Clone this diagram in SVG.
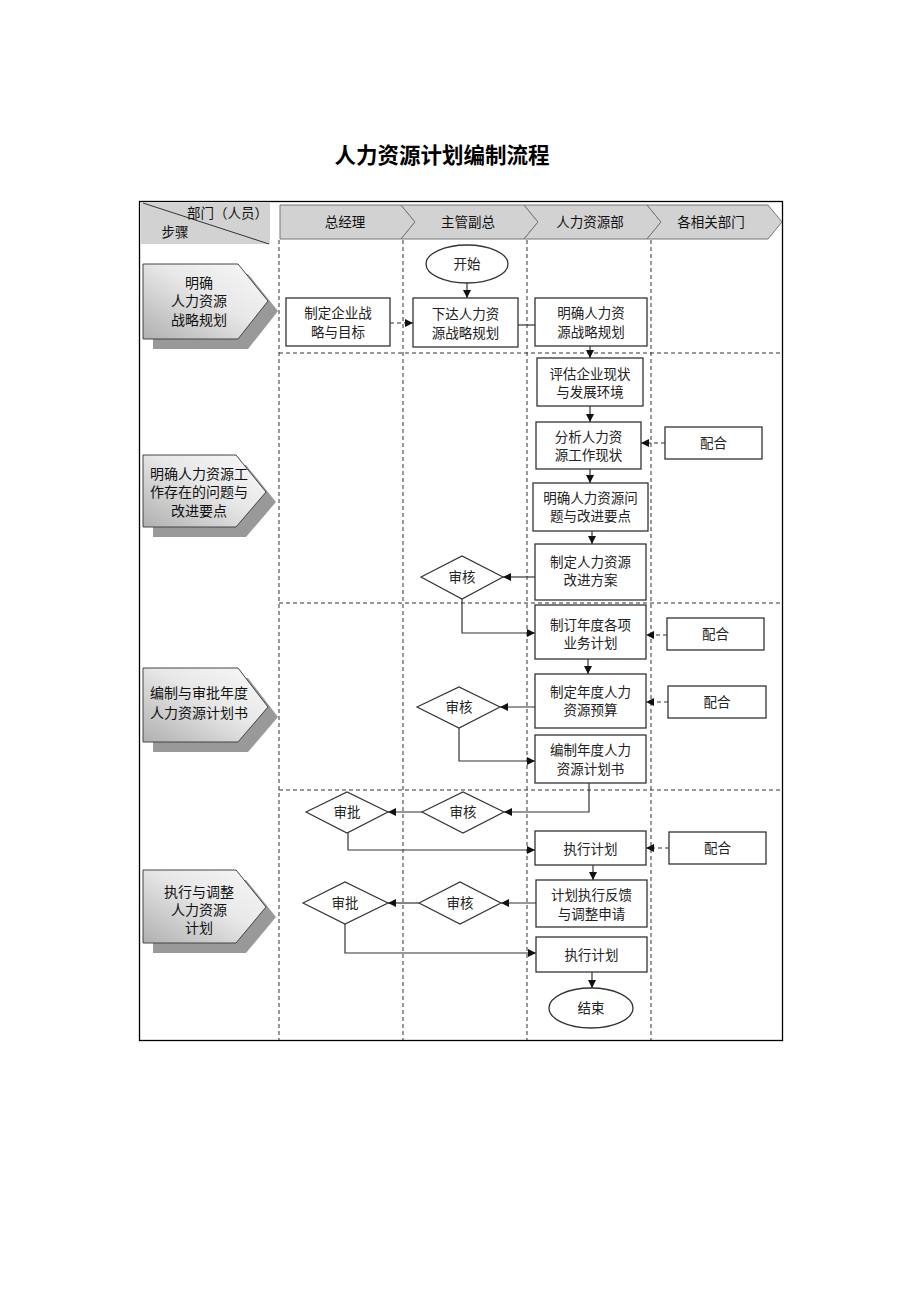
<svg xmlns="http://www.w3.org/2000/svg" width="920" height="1302" viewBox="0 0 920 1302">
<defs>
<style>
.t{font-family:"Noto Sans CJK SC","Noto Sans",sans-serif;font-size:13.5px;fill:#222;text-anchor:middle}
.ts{font-family:"Noto Sans CJK SC","Noto Sans",sans-serif;font-size:14px;fill:#111;text-anchor:middle}
.th{font-family:"Noto Sans CJK SC","Noto Sans",sans-serif;font-size:13.5px;fill:#111;text-anchor:middle}
.box{fill:#fff;stroke:#333;stroke-width:1.3}
.dia{fill:#fff;stroke:#333;stroke-width:1.2}
.grid{fill:none;stroke:#333;stroke-width:1;stroke-dasharray:4 3}
.ln{fill:none;stroke:#333;stroke-width:1.2}
.arr{fill:none;stroke:#333;stroke-width:1.2;marker-end:url(#ah)}
.darr{fill:none;stroke:#333;stroke-width:1.2;stroke-dasharray:4 3;marker-end:url(#ah)}
.step{fill:url(#sg);stroke:#444;stroke-width:1}
.shadow{fill:#999}
.hdr{fill:#d2d2d2;stroke:#777;stroke-width:1}
</style>
<linearGradient id="sg" x1="0" y1="1" x2="1" y2="0">
<stop offset="0" stop-color="#b0b0b0"/>
<stop offset="0.55" stop-color="#e8e8e8"/>
<stop offset="1" stop-color="#f8f8f8"/>
</linearGradient>
<marker id="ah" viewBox="0 0 10 10" refX="10" refY="5" markerWidth="8" markerHeight="8" markerUnits="userSpaceOnUse" orient="auto">
<path d="M0,0 L10,5 L0,10 z" fill="#111"/>
</marker>
</defs>
<rect width="920" height="1302" fill="#fff"/>
<text x="442" y="163" style="font-family:'Noto Sans CJK SC',sans-serif;font-size:21.5px;font-weight:bold;text-anchor:middle;fill:#000">人力资源计划编制流程</text>

<g id="frame">
<rect x="139.5" y="201.5" width="643" height="839" fill="none" stroke="#000" stroke-width="1.3"/>
</g>

<g id="header-corner">
<rect x="141" y="203" width="129" height="41" fill="#d2d2d2"/>
<line x1="143" y1="203" x2="269" y2="244" stroke="#333" stroke-width="1"/>
<text x="268" y="218" class="th" style="text-anchor:end">部门（人员）</text>
<text x="175" y="237" class="th">步骤</text>
</g>

<g id="header-lanes">
<polygon class="hdr" points="280,205 401,205 415,222 401,239 280,239"/>
<polygon class="hdr" points="401,205 524,205 538,222 524,239 401,239 415,222"/>
<polygon class="hdr" points="524,205 647,205 661,222 647,239 524,239 538,222"/>
<polygon class="hdr" points="647,205 768,205 782,222 768,239 647,239 661,222"/>
<text x="345" y="227" class="th">总经理</text>
<text x="468" y="227" class="th">主管副总</text>
<text x="590" y="227" class="th">人力资源部</text>
<text x="711" y="227" class="th">各相关部门</text>
</g>

<g id="grid">
<line class="grid" x1="279" y1="240" x2="279" y2="1040"/>
<line class="grid" x1="403" y1="240" x2="403" y2="1040"/>
<line class="grid" x1="527" y1="240" x2="527" y2="1040"/>
<line class="grid" x1="651" y1="240" x2="651" y2="1040"/>
<line class="grid" x1="279" y1="353" x2="782" y2="353"/>
<line class="grid" x1="279" y1="603" x2="782" y2="603"/>
<line class="grid" x1="279" y1="790" x2="782" y2="790"/>
</g>

<g id="step1">
<polygon class="shadow" points="153,274 248,274 278,311 248,349 153,349"/>
<polygon class="step" points="143,264 238,264 268,301 238,339 143,339"/>
<text x="199" y="288" class="ts">明确</text>
<text x="199" y="306" class="ts">人力资源</text>
<text x="199" y="325" class="ts">战略规划</text>
</g>
<g id="step2">
<polygon class="shadow" points="153,465 246,465 276,502 246,537 153,537"/>
<polygon class="step" points="143,455 236,455 266,492 236,527 143,527"/>
<text x="199" y="479" class="ts">明确人力资源工</text>
<text x="199" y="497" class="ts">作存在的问题与</text>
<text x="199" y="516" class="ts">改进要点</text>
</g>
<g id="step3">
<polygon class="shadow" points="153,678 248,678 278,717 248,752 153,752"/>
<polygon class="step" points="143,668 238,668 268,707 238,742 143,742"/>
<text x="199" y="698" class="ts">编制与审批年度</text>
<text x="199" y="718" class="ts">人力资源计划书</text>
</g>
<g id="step4">
<polygon class="shadow" points="153,880 246,880 276,917 246,953 153,953"/>
<polygon class="step" points="143,870 236,870 266,907 236,943 143,943"/>
<text x="199" y="897" class="ts">执行与调整</text>
<text x="199" y="915" class="ts">人力资源</text>
<text x="199" y="933" class="ts">计划</text>
</g>

<g id="connectors">
<line class="arr" x1="467" y1="283" x2="467" y2="298"/>
<line class="darr" x1="390" y1="323" x2="413" y2="323"/>
<line class="ln" x1="518" y1="325" x2="535" y2="325"/>
<line class="arr" x1="590" y1="346" x2="590" y2="358"/>
<line class="arr" x1="590" y1="406" x2="590" y2="422"/>
<line class="darr" x1="665" y1="443" x2="641" y2="443"/>
<line class="arr" x1="590" y1="469" x2="590" y2="483"/>
<line class="arr" x1="592" y1="531" x2="592" y2="544"/>
<line class="arr" x1="535" y1="577" x2="503" y2="577"/>
<polyline class="arr" points="462,599 462,633 535,633"/>
<line class="darr" x1="667" y1="635" x2="646" y2="635"/>
<line class="arr" x1="588" y1="659" x2="588" y2="674"/>
<line class="darr" x1="668" y1="702" x2="646" y2="702"/>
<line class="arr" x1="535" y1="707" x2="500" y2="707"/>
<polyline class="arr" points="459,728 459,761 535,761"/>
<polyline class="arr" points="589,783 589,812 504,812"/>
<line class="arr" x1="422" y1="812" x2="388" y2="812"/>
<polyline class="arr" points="348,833 348,850 535,850"/>
<line class="darr" x1="669" y1="848" x2="646" y2="848"/>
<line class="arr" x1="593" y1="865" x2="593" y2="880"/>
<line class="arr" x1="536" y1="903" x2="501" y2="903"/>
<line class="arr" x1="419" y1="903" x2="388" y2="903"/>
<polyline class="arr" points="345,924 345,953 536,953"/>
<line class="arr" x1="592" y1="972" x2="592" y2="988"/>
</g>

<g id="start">
<ellipse cx="467" cy="264" rx="41" ry="19" class="box"/>
<text x="467" y="269" class="t">开始</text>
</g>
<g id="n-goal">
<rect x="286" y="298" width="104" height="48" class="box"/>
<text x="338" y="318" class="t">制定企业战</text>
<text x="338" y="337" class="t">略与目标</text>
</g>
<g id="n-issue">
<rect x="413" y="298" width="105" height="49" class="box"/>
<text x="465.5" y="319" class="t">下达人力资</text>
<text x="465.5" y="338" class="t">源战略规划</text>
</g>
<g id="n-clarify">
<rect x="535" y="298" width="112" height="48" class="box"/>
<text x="591" y="318" class="t">明确人力资</text>
<text x="591" y="337" class="t">源战略规划</text>
</g>
<g id="n-assess">
<rect x="537" y="358" width="106" height="48" class="box"/>
<text x="590" y="379" class="t">评估企业现状</text>
<text x="590" y="397" class="t">与发展环境</text>
</g>
<g id="n-analyze">
<rect x="536" y="422" width="105" height="47" class="box"/>
<text x="588.5" y="442" class="t">分析人力资</text>
<text x="588.5" y="460" class="t">源工作现状</text>
</g>
<g id="n-problems">
<rect x="533" y="483" width="115" height="48" class="box"/>
<text x="590.5" y="503" class="t">明确人力资源问</text>
<text x="590.5" y="521" class="t">题与改进要点</text>
</g>
<g id="n-improve">
<rect x="535" y="544" width="111" height="56" class="box"/>
<text x="590.5" y="567" class="t">制定人力资源</text>
<text x="590.5" y="585" class="t">改进方案</text>
</g>
<g id="n-annual">
<rect x="535" y="605" width="111" height="54" class="box"/>
<text x="590.5" y="630" class="t">制订年度各项</text>
<text x="590.5" y="648" class="t">业务计划</text>
</g>
<g id="n-budget">
<rect x="535" y="674" width="111" height="54" class="box"/>
<text x="590.5" y="697" class="t">制定年度人力</text>
<text x="590.5" y="715" class="t">资源预算</text>
</g>
<g id="n-plan">
<rect x="535" y="735" width="111" height="48" class="box"/>
<text x="590.5" y="755" class="t">编制年度人力</text>
<text x="590.5" y="774" class="t">资源计划书</text>
</g>
<g id="n-exec1">
<rect x="535" y="831" width="111" height="34" class="box"/>
<text x="590.5" y="854" class="t">执行计划</text>
</g>
<g id="n-feedback">
<rect x="536" y="880" width="111" height="47" class="box"/>
<text x="591.5" y="900" class="t">计划执行反馈</text>
<text x="591.5" y="919" class="t">与调整申请</text>
</g>
<g id="n-exec2">
<rect x="536" y="937" width="111" height="35" class="box"/>
<text x="591.5" y="960" class="t">执行计划</text>
</g>
<g id="end">
<ellipse cx="591" cy="1008" rx="42" ry="20" class="box"/>
<text x="591" y="1013" class="t">结束</text>
</g>

<g id="c1">
<rect x="665" y="427" width="97" height="32" class="box"/>
<text x="713.5" y="448" class="t">配合</text>
</g>
<g id="c2">
<rect x="667" y="618" width="97" height="32" class="box"/>
<text x="715.5" y="639" class="t">配合</text>
</g>
<g id="c3">
<rect x="668" y="686" width="98" height="32" class="box"/>
<text x="717" y="707" class="t">配合</text>
</g>
<g id="c4">
<rect x="669" y="832" width="97" height="32" class="box"/>
<text x="717.5" y="853" class="t">配合</text>
</g>

<g id="d1">
<polygon class="dia" points="421,577 462,556 503,577 462,599"/>
<text x="462" y="582" class="t">审核</text>
</g>
<g id="d2">
<polygon class="dia" points="417,707 459,687 500,707 459,728"/>
<text x="459" y="712" class="t">审核</text>
</g>
<g id="d3">
<polygon class="dia" points="422,812 463,792 504,812 463,833"/>
<text x="463" y="817" class="t">审核</text>
</g>
<g id="d4">
<polygon class="dia" points="306,812 347,792 388,812 347,833"/>
<text x="347" y="817" class="t">审批</text>
</g>
<g id="d5">
<polygon class="dia" points="419,903 460,882 501,903 460,924"/>
<text x="460" y="908" class="t">审核</text>
</g>
<g id="d6">
<polygon class="dia" points="303,903 345,882 388,903 345,924"/>
<text x="345" y="908" class="t">审批</text>
</g>
</svg>
